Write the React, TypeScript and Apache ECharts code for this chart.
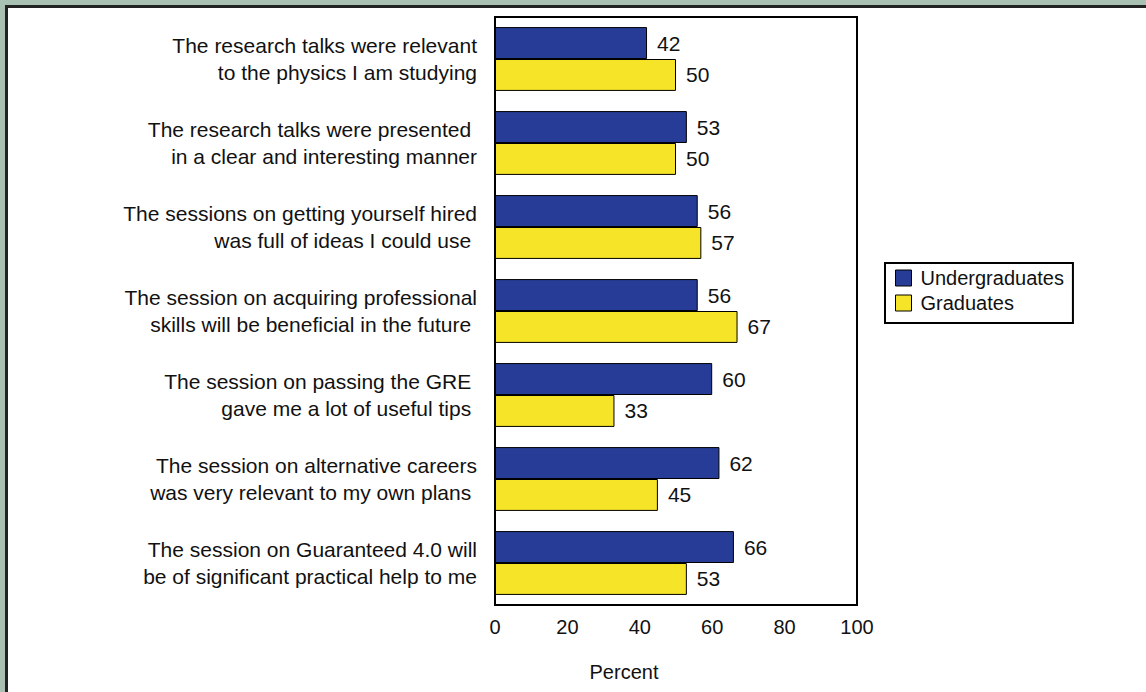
import React, { useEffect, useRef } from "react";
import * as echarts from "echarts";

const categories = [
  "The research talks were relevant\nto the physics I am studying",
  "The research talks were presented \nin a clear and interesting manner",
  "The sessions on getting yourself hired\nwas full of ideas I could use ",
  "The session on acquiring professional\nskills will be beneficial in the future ",
  "The session on passing the GRE \ngave me a lot of useful tips ",
  "The session on alternative careers\nwas very relevant to my own plans ",
  "The session on Guaranteed 4.0 will\nbe of significant practical help to me",
];
const undergraduates = [42, 53, 56, 56, 60, 62, 66];
const graduates = [50, 50, 57, 67, 33, 45, 53];
const seriesNames = ["Undergraduates", "Graduates"];
const xTicks = { min: 0, max: 100, interval: 20 };
const axisTitle = "Percent";

const FONT = "'Liberation Sans', Arial, sans-serif";

export default function App() {
  const ref = useRef<HTMLDivElement>(null);
  useEffect(() => {
    document.body.style.margin = "0";
    const chart = echarts.init(ref.current!, null, { renderer: "svg" });
    const labelStyle = {
      show: true,
      position: "right",
      distance: 10,
      fontSize: 21,
      fontFamily: FONT,
      color: "#111",
    };
    chart.setOption({
      animation: false,
      backgroundColor: "#a8c1b2",
      textStyle: { fontFamily: FONT },
      graphic: [
        {
          type: "rect",
          z: -10,
          shape: { x: 6.5, y: 6.5, width: 1200, height: 800 },
          style: { fill: "#ffffff", stroke: "#222", lineWidth: 3 },
        },
        {
          type: "text",
          x: 624,
          y: 672,
          style: {
            text: axisTitle,
            fontSize: 20,
            fontFamily: FONT,
            fill: "#111",
            align: "center",
            verticalAlign: "middle",
          },
        },
      ],
      grid: {
        left: 495,
        right: 289,
        top: 17,
        bottom: 87,
        show: true,
        borderColor: "#000",
        borderWidth: 2,
        backgroundColor: "#fff",
      },
      legend: {
        orient: "vertical",
        left: 885,
        top: 263,
        data: seriesNames,
        icon: "rect",
        itemWidth: 16,
        itemHeight: 16,
        itemGap: 5,
        padding: [5, 9, 10, 10],
        borderColor: "#000",
        borderWidth: 2,
        backgroundColor: "#fff",
        itemStyle: { borderColor: "#000", borderWidth: 1 },
        textStyle: {
          fontSize: 20,
          fontFamily: FONT,
          color: "#111",
          lineHeight: 20,
          padding: [0, 0, 0, 4],
        },
      },
      xAxis: {
        type: "value",
        min: xTicks.min,
        max: xTicks.max,
        interval: xTicks.interval,
        axisLine: { show: false },
        axisTick: { show: false },
        splitLine: { show: false },
        axisLabel: {
          fontSize: 20,
          fontFamily: FONT,
          color: "#111",
          margin: 12,
        },
      },
      yAxis: {
        type: "category",
        inverse: true,
        data: categories,
        axisLine: { show: false },
        axisTick: { show: false },
        axisLabel: {
          fontSize: 21,
          lineHeight: 27,
          fontFamily: FONT,
          color: "#111",
          margin: 18,
          align: "right",
        },
      },
      series: [
        {
          name: seriesNames[0],
          type: "bar",
          data: undergraduates,
          barGap: "0%",
          barCategoryGap: "24%",
          itemStyle: { color: "#263c97", borderColor: "#000", borderWidth: 1 },
          label: labelStyle,
        },
        {
          name: seriesNames[1],
          type: "bar",
          data: graduates,
          barGap: "0%",
          barCategoryGap: "24%",
          itemStyle: { color: "#f6e428", borderColor: "#000", borderWidth: 1 },
          label: labelStyle,
        },
      ],
    });
    return () => chart.dispose();
  }, []);
  return <div ref={ref} style={{ width: 1146, height: 692 }} />;
}
